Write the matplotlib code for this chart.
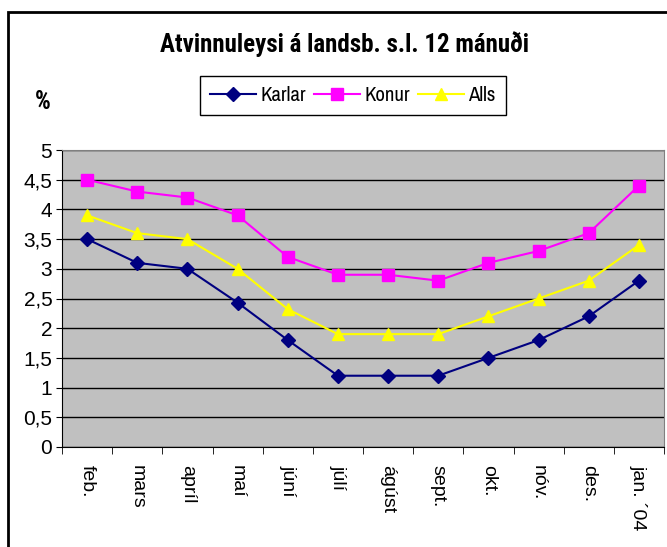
import matplotlib
matplotlib.use("Agg")
import matplotlib.pyplot as plt
from matplotlib.patches import Rectangle
import numpy as np

months = ["feb.", "mars", "apríl", "maí", "júní", "júlí", "ágúst", "sept.", "okt.", "nóv.", "des.", "jan. ´04"]
karlar = [3.5, 3.1, 3.0, 2.43, 1.8, 1.2, 1.2, 1.2, 1.5, 1.8, 2.2, 2.8]
konur = [4.5, 4.3, 4.2, 3.9, 3.2, 2.9, 2.9, 2.8, 3.1, 3.3, 3.6, 4.4]
alls = [3.9, 3.6, 3.5, 3.0, 2.32, 1.9, 1.9, 1.9, 2.2, 2.5, 2.8, 3.4]
yticks = [0, 0.5, 1, 1.5, 2, 2.5, 3, 3.5, 4, 4.5, 5]
ylabels = ["0", "0,5", "1", "1,5", "2", "2,5", "3", "3,5", "4", "4,5", "5"]

NARROW = ['Archivo Narrow', 'Liberation Sans', 'DejaVu Sans']
BOLDNARROW = ['Roboto Condensed', 'Fira Sans Condensed', 'Liberation Sans', 'DejaVu Sans']
REGULAR = ['Liberation Sans', 'DejaVu Sans']
plt.rcParams['font.family'] = NARROW

W, H = 667, 547
fig = plt.figure(figsize=(W/100, H/100), dpi=100)
fig.patch.set_facecolor('white')

# outer frame
fig.add_artist(Rectangle((8/W, -0.1), 1.2, 1 - 12/H + 0.1, transform=fig.transFigure,
                         fill=False, edgecolor='black', linewidth=2, zorder=0))

ax = fig.add_axes([62/W, 1 - 447/H, (664-62)/W, (447-150)/H])
ax.set_facecolor('#C0C0C0')
x = np.arange(len(months))

ax.plot(x, karlar, color='#000080', marker='D', markersize=7, linewidth=1.5, label='Karlar', clip_on=False, zorder=3)
ax.plot(x, konur, color='#FF00FF', marker='s', markersize=8, linewidth=1.5, label='Konur', clip_on=False, zorder=3)
ax.plot(x, alls, color='#FFFF00', marker='^', markersize=9, linewidth=1.5, label='Alls', clip_on=False, zorder=3)

ax.set_xlim(-0.5, len(months) - 0.5)
ax.set_ylim(0, 5)
ax.set_yticks(yticks)
ax.set_yticklabels(ylabels, fontdict={'family': REGULAR, 'size': 15})
ax.yaxis.grid(True, color='black', linewidth=1)
ax.set_axisbelow(True)

ax.set_xticks(x)
ax.set_xticklabels(months, rotation=270, va='top', ha='center',
                   fontdict={'family': REGULAR, 'size': 14})
ax.tick_params(axis='x', which='major', length=0, pad=13)
ax.set_xticks(np.arange(-0.5, len(months)), minor=True)
ax.tick_params(axis='x', which='minor', length=5, direction='out')
ax.tick_params(axis='y', length=4, direction='out', pad=3)

for s in ['top', 'right']:
    ax.spines[s].set_color('#808080')
for s in ['left', 'bottom']:
    ax.spines[s].set_color('black')

fig.text(345/W, 1 - 44/H, "Atvinnuleysi á landsb. s.l. 12 mánuði", ha='center', va='center',
         fontsize=18, fontweight='bold', family=BOLDNARROW)
fig.text(43/W, 1 - 102/H, "%", ha='center', va='center', fontsize=18, fontweight='bold', family=BOLDNARROW)

leg = fig.legend(loc='center', bbox_to_anchor=(353/W, 1 - 95.5/H), ncol=3,
                 prop={'family': NARROW, 'size': 15},
                 frameon=True, fancybox=False, edgecolor='black', framealpha=1,
                 handlelength=2.2, columnspacing=0.4, handletextpad=0.2, borderpad=0.5,
                 borderaxespad=0)
leg.get_frame().set_linewidth(1)

fig.savefig('out.png', dpi=100)
